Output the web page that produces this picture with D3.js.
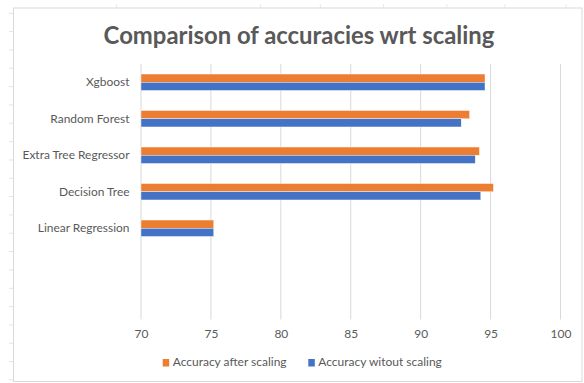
<!DOCTYPE html>
<html>
<head>
<meta charset="utf-8">
<script src="https://cdn.jsdelivr.net/npm/d3@7/dist/d3.min.js"></script>
<style>
  html, body { margin: 0; padding: 0; background: #fff; }
  svg { display: block; }
  text { font-family: Lato, "Open Sans", sans-serif; }
</style>
</head>
<body>
<svg id="chart" width="584" height="383"></svg>
<script>
// ---- data ----
const title = "Comparison of accuracies wrt scaling";
const categories = ["Xgboost", "Random Forest", "Extra Tree Regressor", "Decision Tree", "Linear Regression", "", ""];
const seriesNames = ["Accuracy after scaling", "Accuracy witout scaling"];
const afterScaling = [94.6, 93.5, 94.2, 95.2, 75.2, null, null];
const withoutScaling = [94.6, 92.9, 93.9, 94.3, 75.2, null, null];
const xTicks = [70, 75, 80, 85, 90, 95, 100];
const colors = ["#ED7D31", "#4472C4"];

const seriesValues = [afterScaling, withoutScaling];

const svg = d3.select("#chart");
const textColor = "#595959";
const gridColor = "#d9d9d9";

// spreadsheet cell lines peeking around the chart object
const rowLines = d3.range(13.3, 383, 18.33);
svg.append("g").selectAll("line").data(rowLines).join("line")
  .attr("x1", 9).attr("x2", 13.5).attr("y1", d => d).attr("y2", d => d)
  .attr("stroke", "#e4e4e4").attr("stroke-width", 1);
const colLines = [116.7, 260.7, 320.3, 383.6, 446.9, 505, 566];
svg.append("g").selectAll("line").data(colLines).join("line")
  .attr("x1", d => d).attr("x2", d => d).attr("y1", 4).attr("y2", 8)
  .attr("stroke", "#e8e8e8").attr("stroke-width", 1);

// chart area border
svg.append("rect")
  .attr("x", 13.5).attr("y", 8).attr("width", 568.5).attr("height", 373.5)
  .attr("fill", "#fff").attr("stroke", gridColor).attr("stroke-width", 1);

// helper to fit font size to a target width
function fitSize(str, weight, targetWidth) {
  const t = svg.append("text").attr("font-size", 100).attr("font-weight", weight).text(str);
  const w = t.node().getComputedTextLength();
  t.remove();
  return 100 * targetWidth / w;
}

// scales
const x = d3.scaleLinear().domain([70, 100]).range([141, 560.5]);
const y = d3.scaleBand().domain(d3.range(categories.length)).range([64, 319.5])
  .paddingInner(0.55).paddingOuter(0.275);
const ySub = d3.scaleBand().domain(d3.range(seriesNames.length)).range([0, y.bandwidth()]);

// gridlines
svg.append("g").selectAll("line").data(xTicks).join("line")
  .attr("x1", d => x(d)).attr("x2", d => x(d))
  .attr("y1", 64).attr("y2", 319.5)
  .attr("stroke", gridColor).attr("stroke-width", 1);

// bars
const rows = [];
categories.forEach((c, i) => {
  seriesValues.forEach((vals, s) => {
    if (vals[i] != null) rows.push({ i, s, v: vals[i] });
  });
});
svg.append("g").selectAll("rect").data(rows).join("rect")
  .attr("x", x(70))
  .attr("y", d => y(d.i) + ySub(d.s))
  .attr("width", d => x(d.v) - x(70))
  .attr("height", ySub.bandwidth())
  .attr("fill", d => colors[d.s])
  .attr("stroke", "#ffffff").attr("stroke-width", 0.4);

// category labels
const catSize = fitSize("Extra Tree Regressor", 400, 107);
const yAxis = d3.axisLeft(y).tickSize(0).tickPadding(0).tickFormat(i => categories[i]);
const yg = svg.append("g").attr("transform", "translate(129.5,0)").call(yAxis);
yg.select(".domain").remove();
yg.selectAll("text").attr("font-size", catSize).attr("fill", textColor)
  .attr("font-family", "Lato, 'Open Sans', sans-serif");

// x axis tick labels
const xAxis = d3.axisBottom(x).tickValues(xTicks).tickSize(0).tickPadding(0);
const xg = svg.append("g").attr("transform", "translate(0,329.5)").call(xAxis);
xg.select(".domain").remove();
xg.selectAll("text").attr("font-size", catSize).attr("fill", textColor)
  .attr("font-family", "Lato, 'Open Sans', sans-serif");

// title
const titleSize = fitSize(title, 700, 391);
svg.append("text")
  .attr("x", 299).attr("y", 43.5)
  .attr("text-anchor", "middle")
  .attr("font-size", titleSize).attr("font-weight", 700)
  .attr("fill", textColor)
  .text(title);

// legend
const legSize = fitSize(seriesNames[0], 400, 114);
const legX = [162.7, 308.3];
const lg = svg.append("g").selectAll("g").data(seriesNames).join("g")
  .attr("transform", (d, i) => `translate(${legX[i]},0)`);
lg.append("rect").attr("x", 0).attr("y", 359).attr("width", 6.5).attr("height", 7.5)
  .attr("fill", (d, i) => colors[i]);
lg.append("text").attr("x", 10).attr("y", 366.3)
  .attr("font-size", legSize).attr("fill", textColor).text(d => d);
</script>
</body>
</html>
